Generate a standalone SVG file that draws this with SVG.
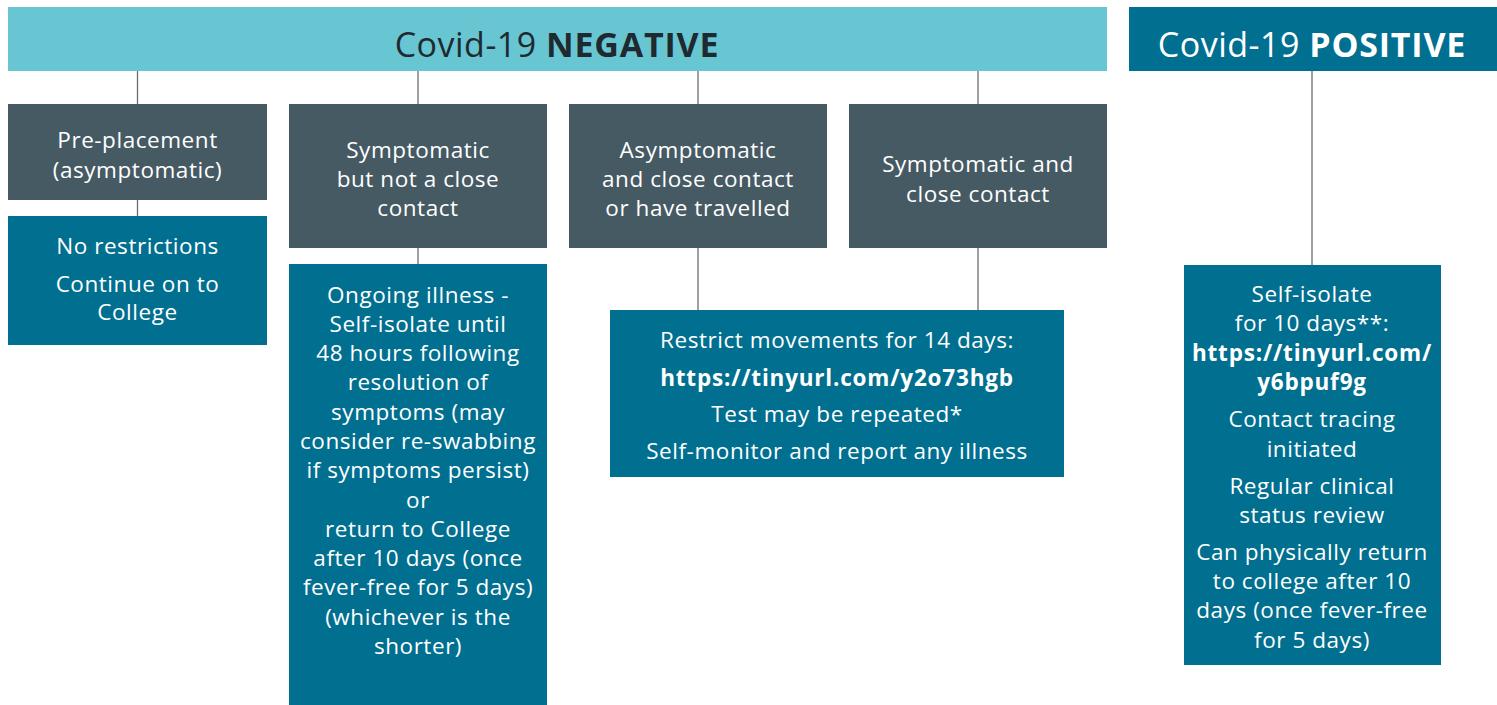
<svg xmlns="http://www.w3.org/2000/svg" width="1497" height="705" viewBox="0 0 1497 705">
<style>
text{font-family:"Open Sans",Lato,"Liberation Sans",sans-serif;fill:#fff;text-anchor:middle;font-size:22.5px;letter-spacing:0.55px}
.hd{font-size:34px;letter-spacing:0.5px}
.dk{fill:#1f2a30}
.b{font-weight:bold;letter-spacing:0.8px}
.lt{fill:#68c6d3}
.tl{fill:#016f8f}
.gr{fill:#465a64}
.cn line{stroke:#6d6d6d;stroke-width:1.3}
</style>
<rect width="1497" height="705" fill="#fff"/>
<g class="cn">
<line x1="137.5" y1="71" x2="137.5" y2="104"/>
<line x1="137.5" y1="200" x2="137.5" y2="216"/>
<line x1="418" y1="71" x2="418" y2="104"/>
<line x1="418" y1="248" x2="418" y2="264"/>
<line x1="698" y1="71" x2="698" y2="104"/>
<line x1="698" y1="248" x2="698" y2="310"/>
<line x1="978" y1="71" x2="978" y2="104"/>
<line x1="978" y1="248" x2="978" y2="310"/>
<line x1="1312" y1="71" x2="1312" y2="265"/>
</g>
<g id="neg">
<rect class="lt" x="8" y="7" width="1099" height="64"/>
<text class="hd dk" x="557" y="57">Covid-19 <tspan class="b">NEGATIVE</tspan></text>
</g>
<g id="pos">
<rect class="tl" x="1129" y="7" width="368" height="64"/>
<text class="hd" x="1312" y="57">Covid-19 <tspan class="b">POSITIVE</tspan></text>
</g>
<g id="pre">
<rect class="gr" x="8" y="104" width="259" height="96"/>
<text x="137.5" y="148">Pre-placement</text>
<text x="137.5" y="178">(asymptomatic)</text>
</g>
<g id="symp">
<rect class="gr" x="289" y="104" width="258" height="144"/>
<text x="418" y="158">Symptomatic</text>
<text x="418" y="187">but not a close</text>
<text x="418" y="216">contact</text>
</g>
<g id="asymp">
<rect class="gr" x="569" y="104" width="258" height="144"/>
<text x="698" y="158">Asymptomatic</text>
<text x="698" y="187">and close contact</text>
<text x="698" y="216">or have travelled</text>
</g>
<g id="sympclose">
<rect class="gr" x="849" y="104" width="258" height="144"/>
<text x="978" y="172">Symptomatic and</text>
<text x="978" y="202">close contact</text>
</g>
<g id="norestr">
<rect class="tl" x="8" y="216" width="259" height="129"/>
<text x="137.5" y="254">No restrictions</text>
<text x="137.5" y="292">Continue on to</text>
<text x="137.5" y="320">College</text>
</g>
<g id="ongoing">
<rect class="tl" x="289" y="264" width="258" height="441"/>
<text x="418" y="303">Ongoing illness -</text>
<text x="418" y="332">Self-isolate until</text>
<text x="418" y="361">48 hours following</text>
<text x="418" y="390">resolution of</text>
<text x="418" y="420">symptoms (may</text>
<text x="418" y="449">consider re-swabbing</text>
<text x="418" y="478">if symptoms persist)</text>
<text x="418" y="508">or</text>
<text x="418" y="537">return to College</text>
<text x="418" y="566">after 10 days (once</text>
<text x="418" y="595">fever-free for 5 days)</text>
<text x="418" y="625">(whichever is the</text>
<text x="418" y="654">shorter)</text>
</g>
<g id="restrict">
<rect class="tl" x="610" y="310" width="454" height="167"/>
<text x="837" y="348">Restrict movements for 14 days:</text>
<text class="b" x="837" y="386">https://tinyurl.com/y2o73hgb</text>
<text x="837" y="422">Test may be repeated*</text>
<text x="837" y="459">Self-monitor and report any illness</text>
</g>
<g id="isolate">
<rect class="tl" x="1184" y="265" width="257" height="400"/>
<text x="1312" y="302">Self-isolate</text>
<text x="1312" y="331">for 10 days**:</text>
<text class="b" x="1312" y="361">https://tinyurl.com/</text>
<text class="b" x="1312" y="390">y6bpuf9g</text>
<text x="1312" y="427">Contact tracing</text>
<text x="1312" y="457">initiated</text>
<text x="1312" y="494">Regular clinical</text>
<text x="1312" y="523">status review</text>
<text x="1312" y="560">Can physically return</text>
<text x="1312" y="589">to college after 10</text>
<text x="1312" y="618">days (once fever-free</text>
<text x="1312" y="648">for 5 days)</text>
</g>
</svg>
